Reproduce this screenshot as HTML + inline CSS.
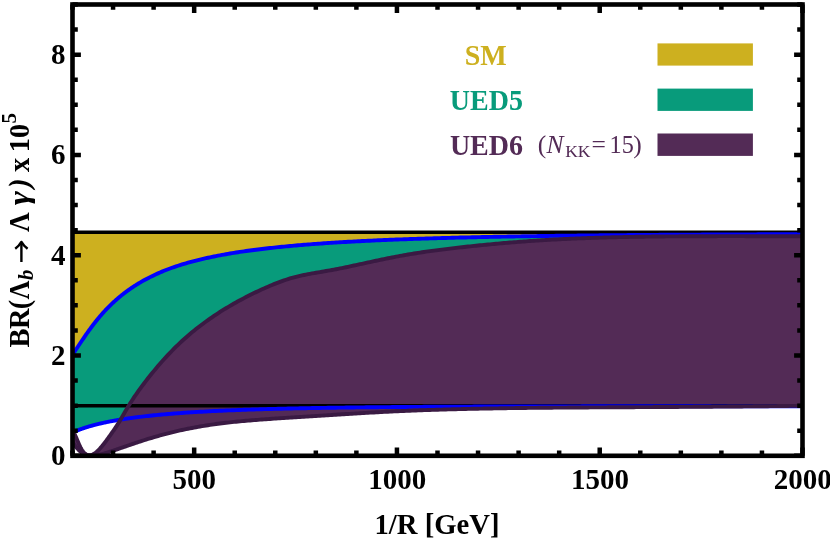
<!DOCTYPE html>
<html>
<head>
<meta charset="utf-8">
<title>BR plot</title>
<style>
html, body { margin: 0; padding: 0; background: #ffffff; }
body { width: 830px; height: 540px; overflow: hidden; font-family: "Liberation Serif", serif; }
svg { display: block; will-change: transform; }
</style>
</head>
<body>
<svg width="830" height="540" viewBox="0 0 830 540">
<rect x="0" y="0" width="830" height="540" fill="#ffffff"/>
<defs><clipPath id="plot"><rect x="72.50" y="4.50" width="730.00" height="451.30"/></clipPath></defs>
<g clip-path="url(#plot)">
<rect x="72.50" y="232.20" width="730.00" height="173.60" fill="#CDB01F"/>
<path d="M72.50 354.57 L73.00 353.86 L73.50 353.14 L74.00 352.42 L74.50 351.69 L75.00 350.96 L75.50 350.22 L76.00 349.48 L76.50 348.73 L77.00 347.99 L77.50 347.24 L78.00 346.49 L78.50 345.74 L79.00 344.99 L79.50 344.24 L80.00 343.49 L80.50 342.75 L81.00 342.00 L81.50 341.26 L82.00 340.51 L82.50 339.77 L83.00 339.04 L83.50 338.30 L84.00 337.57 L84.50 336.84 L85.00 336.11 L85.50 335.39 L86.00 334.67 L86.50 333.96 L87.00 333.25 L87.50 332.54 L88.00 331.84 L88.50 331.14 L89.00 330.44 L89.50 329.75 L90.00 329.07 L90.50 328.38 L91.00 327.71 L91.50 327.04 L92.00 326.37 L92.50 325.71 L93.00 325.05 L93.50 324.39 L94.00 323.74 L94.50 323.10 L95.00 322.46 L95.50 321.83 L96.00 321.20 L96.50 320.58 L97.00 319.96 L97.50 319.34 L98.00 318.73 L98.50 318.13 L99.00 317.53 L99.50 316.93 L100.00 316.35 L100.50 315.76 L101.00 315.18 L101.50 314.61 L102.00 314.04 L102.50 313.47 L103.00 312.91 L103.50 312.36 L104.00 311.81 L104.50 311.26 L105.00 310.72 L105.50 310.19 L106.00 309.66 L106.50 309.13 L107.00 308.61 L107.50 308.09 L108.00 307.58 L108.50 307.07 L109.00 306.57 L109.50 306.07 L110.00 305.58 L110.50 305.09 L111.00 304.60 L111.50 304.12 L112.00 303.65 L112.50 303.18 L113.00 302.71 L113.50 302.24 L114.00 301.78 L114.50 301.33 L115.00 300.88 L115.50 300.43 L116.00 299.99 L116.50 299.55 L117.00 299.11 L117.50 298.68 L118.00 298.25 L118.50 297.83 L119.00 297.40 L119.50 296.99 L120.00 296.57 L120.50 296.16 L121.00 295.76 L121.50 295.35 L122.00 294.95 L122.50 294.56 L123.00 294.16 L123.50 293.77 L124.00 293.39 L124.50 293.00 L125.00 292.62 L125.50 292.25 L126.00 291.87 L126.50 291.50 L127.00 291.14 L127.50 290.77 L128.00 290.41 L128.50 290.05 L129.00 289.70 L129.50 289.34 L130.00 288.99 L130.50 288.65 L131.00 288.30 L131.50 287.96 L132.00 287.63 L132.50 287.29 L133.00 286.96 L133.50 286.63 L134.00 286.30 L134.50 285.98 L135.00 285.66 L135.50 285.34 L136.00 285.02 L136.50 284.71 L137.00 284.40 L137.50 284.09 L138.00 283.78 L138.50 283.48 L139.00 283.18 L139.50 282.88 L140.00 282.58 L142.00 281.42 L144.00 280.29 L146.00 279.20 L148.00 278.15 L150.00 277.13 L152.00 276.14 L154.00 275.18 L156.00 274.25 L158.00 273.35 L160.00 272.48 L162.00 271.64 L164.00 270.82 L166.00 270.03 L168.00 269.26 L170.00 268.52 L172.00 267.79 L174.00 267.09 L176.00 266.41 L178.00 265.75 L180.00 265.11 L182.00 264.48 L184.00 263.88 L186.00 263.29 L188.00 262.71 L190.00 262.15 L192.00 261.61 L194.00 261.08 L196.00 260.57 L198.00 260.07 L200.00 259.58 L202.00 259.10 L204.00 258.63 L206.00 258.18 L208.00 257.74 L210.00 257.31 L212.00 256.89 L214.00 256.48 L216.00 256.08 L218.00 255.69 L220.00 255.30 L222.00 254.93 L224.00 254.56 L226.00 254.21 L228.00 253.86 L230.00 253.52 L232.00 253.19 L234.00 252.86 L236.00 252.54 L238.00 252.23 L240.00 251.93 L242.00 251.63 L244.00 251.33 L246.00 251.05 L248.00 250.77 L250.00 250.49 L252.00 250.23 L254.00 249.96 L256.00 249.70 L258.00 249.45 L260.00 249.20 L262.00 248.96 L264.00 248.72 L266.00 248.49 L268.00 248.26 L270.00 248.04 L272.00 247.82 L274.00 247.60 L276.00 247.39 L278.00 247.18 L280.00 246.98 L282.00 246.78 L284.00 246.58 L286.00 246.39 L288.00 246.20 L290.00 246.01 L292.00 245.83 L294.00 245.65 L296.00 245.48 L298.00 245.30 L300.00 245.13 L302.00 244.97 L304.00 244.80 L306.00 244.64 L308.00 244.48 L310.00 244.33 L312.00 244.17 L314.00 244.02 L316.00 243.88 L318.00 243.73 L320.00 243.59 L322.00 243.45 L324.00 243.31 L326.00 243.17 L328.00 243.04 L330.00 242.91 L332.00 242.78 L334.00 242.65 L336.00 242.53 L338.00 242.40 L340.00 242.28 L342.00 242.16 L344.00 242.05 L346.00 241.93 L348.00 241.82 L350.00 241.71 L352.00 241.60 L354.00 241.49 L356.00 241.38 L358.00 241.28 L360.00 241.18 L362.00 241.07 L364.00 240.97 L366.00 240.88 L368.00 240.78 L370.00 240.68 L372.00 240.59 L374.00 240.50 L376.00 240.41 L378.00 240.32 L380.00 240.23 L382.00 240.14 L384.00 240.06 L386.00 239.97 L388.00 239.89 L390.00 239.81 L392.00 239.72 L394.00 239.65 L396.00 239.57 L398.00 239.49 L400.00 239.41 L402.00 239.34 L404.00 239.26 L406.00 239.19 L408.00 239.12 L410.00 239.05 L412.00 238.98 L414.00 238.91 L416.00 238.84 L418.00 238.78 L420.00 238.71 L422.00 238.65 L424.00 238.58 L426.00 238.52 L428.00 238.46 L430.00 238.40 L432.00 238.34 L434.00 238.28 L436.00 238.22 L438.00 238.16 L440.00 238.10 L442.00 238.05 L444.00 237.99 L446.00 237.94 L448.00 237.88 L450.00 237.83 L452.00 237.78 L454.00 237.72 L456.00 237.67 L458.00 237.62 L460.00 237.57 L462.00 237.52 L464.00 237.47 L466.00 237.43 L468.00 237.38 L470.00 237.33 L472.00 237.29 L474.00 237.24 L476.00 237.20 L478.00 237.15 L480.00 237.11 L482.00 237.07 L484.00 237.03 L486.00 236.98 L488.00 236.94 L490.00 236.90 L492.00 236.86 L494.00 236.82 L496.00 236.78 L498.00 236.74 L500.00 236.71 L502.00 236.67 L504.00 236.63 L506.00 236.60 L508.00 236.56 L510.00 236.52 L512.00 236.49 L514.00 236.45 L516.00 236.42 L518.00 236.39 L520.00 236.35 L522.00 236.32 L524.00 236.29 L526.00 236.26 L528.00 236.22 L530.00 236.19 L532.00 236.16 L534.00 236.13 L536.00 236.10 L538.00 236.07 L540.00 236.04 L542.00 236.01 L544.00 235.99 L546.00 235.96 L548.00 235.93 L550.00 235.90 L552.00 235.88 L554.00 235.85 L556.00 235.82 L558.00 235.80 L560.00 235.77 L562.00 235.74 L564.00 235.72 L566.00 235.69 L568.00 235.67 L570.00 235.65 L572.00 235.62 L574.00 235.60 L576.00 235.58 L578.00 235.55 L580.00 235.53 L582.00 235.51 L584.00 235.49 L586.00 235.46 L588.00 235.44 L590.00 235.42 L592.00 235.40 L594.00 235.38 L596.00 235.36 L598.00 235.34 L600.00 235.32 L602.00 235.30 L604.00 235.28 L606.00 235.26 L608.00 235.24 L610.00 235.22 L612.00 235.20 L614.00 235.19 L616.00 235.17 L618.00 235.15 L620.00 235.13 L622.00 235.11 L624.00 235.10 L626.00 235.08 L628.00 235.06 L630.00 235.05 L632.00 235.03 L634.00 235.01 L636.00 235.00 L638.00 234.98 L640.00 234.97 L642.00 234.95 L644.00 234.94 L646.00 234.92 L648.00 234.91 L650.00 234.89 L652.00 234.88 L654.00 234.86 L656.00 234.85 L658.00 234.83 L660.00 234.82 L662.00 234.81 L664.00 234.79 L666.00 234.78 L668.00 234.77 L670.00 234.75 L672.00 234.74 L674.00 234.73 L676.00 234.72 L678.00 234.70 L680.00 234.69 L682.00 234.68 L684.00 234.67 L686.00 234.66 L688.00 234.65 L690.00 234.63 L692.00 234.62 L694.00 234.61 L696.00 234.60 L698.00 234.59 L700.00 234.58 L702.00 234.57 L704.00 234.56 L706.00 234.55 L708.00 234.54 L710.00 234.53 L712.00 234.52 L714.00 234.51 L716.00 234.50 L718.00 234.49 L720.00 234.48 L722.00 234.47 L724.00 234.46 L726.00 234.45 L728.00 234.44 L730.00 234.43 L732.00 234.42 L734.00 234.42 L736.00 234.41 L738.00 234.40 L740.00 234.39 L742.00 234.38 L744.00 234.37 L746.00 234.36 L748.00 234.36 L750.00 234.35 L752.00 234.34 L754.00 234.33 L756.00 234.33 L758.00 234.32 L760.00 234.31 L762.00 234.30 L764.00 234.30 L766.00 234.29 L768.00 234.28 L770.00 234.28 L772.00 234.27 L774.00 234.26 L776.00 234.25 L778.00 234.25 L780.00 234.24 L782.00 234.24 L784.00 234.23 L786.00 234.22 L788.00 234.22 L790.00 234.21 L792.00 234.20 L794.00 234.20 L796.00 234.19 L798.00 234.19 L800.00 234.18 L802.00 234.17 L802.50 234.17 L802.50 406.42 L802.00 406.42 L800.00 406.41 L798.00 406.41 L796.00 406.41 L794.00 406.41 L792.00 406.40 L790.00 406.40 L788.00 406.40 L786.00 406.40 L784.00 406.39 L782.00 406.39 L780.00 406.39 L778.00 406.39 L776.00 406.39 L774.00 406.38 L772.00 406.38 L770.00 406.38 L768.00 406.38 L766.00 406.37 L764.00 406.37 L762.00 406.37 L760.00 406.37 L758.00 406.37 L756.00 406.36 L754.00 406.36 L752.00 406.36 L750.00 406.36 L748.00 406.36 L746.00 406.35 L744.00 406.35 L742.00 406.35 L740.00 406.35 L738.00 406.35 L736.00 406.34 L734.00 406.34 L732.00 406.34 L730.00 406.34 L728.00 406.34 L726.00 406.34 L724.00 406.33 L722.00 406.33 L720.00 406.33 L718.00 406.33 L716.00 406.33 L714.00 406.33 L712.00 406.33 L710.00 406.32 L708.00 406.32 L706.00 406.32 L704.00 406.32 L702.00 406.32 L700.00 406.32 L698.00 406.32 L696.00 406.31 L694.00 406.31 L692.00 406.31 L690.00 406.31 L688.00 406.31 L686.00 406.31 L684.00 406.31 L682.00 406.31 L680.00 406.31 L678.00 406.31 L676.00 406.31 L674.00 406.30 L672.00 406.30 L670.00 406.30 L668.00 406.30 L666.00 406.30 L664.00 406.30 L662.00 406.30 L660.00 406.30 L658.00 406.30 L656.00 406.30 L654.00 406.30 L652.00 406.30 L650.00 406.30 L648.00 406.30 L646.00 406.30 L644.00 406.30 L642.00 406.30 L640.00 406.30 L638.00 406.30 L636.00 406.30 L634.00 406.30 L632.00 406.30 L630.00 406.30 L628.00 406.30 L626.00 406.30 L624.00 406.30 L622.00 406.30 L620.00 406.30 L618.00 406.30 L616.00 406.30 L614.00 406.30 L612.00 406.30 L610.00 406.31 L608.00 406.31 L606.00 406.31 L604.00 406.31 L602.00 406.31 L600.00 406.31 L598.00 406.31 L596.00 406.31 L594.00 406.31 L592.00 406.32 L590.00 406.32 L588.00 406.32 L586.00 406.32 L584.00 406.32 L582.00 406.32 L580.00 406.33 L578.00 406.33 L576.00 406.33 L574.00 406.33 L572.00 406.34 L570.00 406.34 L568.00 406.34 L566.00 406.34 L564.00 406.34 L562.00 406.35 L560.00 406.35 L558.00 406.35 L556.00 406.36 L554.00 406.36 L552.00 406.36 L550.00 406.36 L548.00 406.37 L546.00 406.37 L544.00 406.37 L542.00 406.38 L540.00 406.38 L538.00 406.39 L536.00 406.39 L534.00 406.39 L532.00 406.40 L530.00 406.40 L528.00 406.41 L526.00 406.41 L524.00 406.41 L522.00 406.42 L520.00 406.42 L518.00 406.43 L516.00 406.43 L514.00 406.44 L512.00 406.44 L510.00 406.45 L508.00 406.45 L506.00 406.46 L504.00 406.47 L502.00 406.47 L500.00 406.48 L498.00 406.48 L496.00 406.49 L494.00 406.50 L492.00 406.50 L490.00 406.51 L488.00 406.52 L486.00 406.52 L484.00 406.53 L482.00 406.54 L480.00 406.54 L478.00 406.55 L476.00 406.56 L474.00 406.57 L472.00 406.58 L470.00 406.58 L468.00 406.59 L466.00 406.60 L464.00 406.61 L462.00 406.62 L460.00 406.63 L458.00 406.64 L456.00 406.65 L454.00 406.65 L452.00 406.66 L450.00 406.67 L448.00 406.68 L446.00 406.69 L444.00 406.71 L442.00 406.72 L440.00 406.73 L438.00 406.74 L436.00 406.75 L434.00 406.76 L432.00 406.77 L430.00 406.78 L428.00 406.80 L426.00 406.81 L424.00 406.82 L422.00 406.83 L420.00 406.85 L418.00 406.86 L416.00 406.87 L414.00 406.89 L412.00 406.90 L410.00 406.92 L408.00 406.93 L406.00 406.95 L404.00 406.96 L402.00 406.98 L400.00 406.99 L398.00 407.01 L396.00 407.03 L394.00 407.04 L392.00 407.06 L390.00 407.08 L388.00 407.09 L386.00 407.11 L384.00 407.13 L382.00 407.15 L380.00 407.17 L378.00 407.19 L376.00 407.21 L374.00 407.23 L372.00 407.25 L370.00 407.27 L368.00 407.29 L366.00 407.31 L364.00 407.33 L362.00 407.36 L360.00 407.38 L358.00 407.40 L356.00 407.42 L354.00 407.45 L352.00 407.47 L350.00 407.50 L348.00 407.52 L346.00 407.55 L344.00 407.58 L342.00 407.60 L340.00 407.63 L338.00 407.66 L336.00 407.69 L334.00 407.71 L332.00 407.74 L330.00 407.77 L328.00 407.80 L326.00 407.84 L324.00 407.87 L322.00 407.90 L320.00 407.93 L318.00 407.97 L316.00 408.00 L314.00 408.03 L312.00 408.07 L310.00 408.11 L308.00 408.14 L306.00 408.18 L304.00 408.22 L302.00 408.26 L300.00 408.30 L298.00 408.34 L296.00 408.38 L294.00 408.42 L292.00 408.46 L290.00 408.51 L288.00 408.55 L286.00 408.60 L284.00 408.64 L282.00 408.69 L280.00 408.74 L278.00 408.79 L276.00 408.84 L274.00 408.89 L272.00 408.94 L270.00 409.00 L268.00 409.05 L266.00 409.11 L264.00 409.16 L262.00 409.22 L260.00 409.28 L258.00 409.34 L256.00 409.40 L254.00 409.47 L252.00 409.53 L250.00 409.60 L248.00 409.66 L246.00 409.73 L244.00 409.80 L242.00 409.87 L240.00 409.95 L238.00 410.02 L236.00 410.10 L234.00 410.18 L232.00 410.26 L230.00 410.34 L228.00 410.42 L226.00 410.51 L224.00 410.59 L222.00 410.68 L220.00 410.77 L218.00 410.87 L216.00 410.96 L214.00 411.06 L212.00 411.16 L210.00 411.26 L208.00 411.36 L206.00 411.47 L204.00 411.58 L202.00 411.69 L200.00 411.80 L198.00 411.92 L196.00 412.04 L194.00 412.16 L192.00 412.28 L190.00 412.41 L188.00 412.54 L186.00 412.67 L184.00 412.81 L182.00 412.95 L180.00 413.09 L178.00 413.24 L176.00 413.39 L174.00 413.54 L172.00 413.70 L170.00 413.86 L168.00 414.03 L166.00 414.20 L164.00 414.37 L162.00 414.55 L160.00 414.73 L158.00 414.92 L156.00 415.11 L154.00 415.31 L152.00 415.51 L150.00 415.72 L148.00 415.94 L146.00 416.16 L144.00 416.38 L142.00 416.62 L140.00 416.86 L139.50 416.92 L139.00 416.98 L138.50 417.04 L138.00 417.10 L137.50 417.16 L137.00 417.23 L136.50 417.29 L136.00 417.35 L135.50 417.42 L135.00 417.48 L134.50 417.55 L134.00 417.62 L133.50 417.68 L133.00 417.75 L132.50 417.82 L132.00 417.88 L131.50 417.95 L131.00 418.02 L130.50 418.09 L130.00 418.16 L129.50 418.23 L129.00 418.30 L128.50 418.37 L128.00 418.45 L127.50 418.52 L127.00 418.59 L126.50 418.66 L126.00 418.74 L125.50 418.81 L125.00 418.89 L124.50 418.97 L124.00 419.04 L123.50 419.12 L123.00 419.20 L122.50 419.28 L122.00 419.36 L121.50 419.43 L121.00 419.52 L120.50 419.60 L120.00 419.68 L119.50 419.76 L119.00 419.84 L118.50 419.93 L118.00 420.01 L117.50 420.10 L117.00 420.18 L116.50 420.27 L116.00 420.36 L115.50 420.45 L115.00 420.53 L114.50 420.62 L114.00 420.71 L113.50 420.80 L113.00 420.90 L112.50 420.99 L112.00 421.08 L111.50 421.18 L111.00 421.27 L110.50 421.37 L110.00 421.46 L109.50 421.56 L109.00 421.66 L108.50 421.76 L108.00 421.86 L107.50 421.96 L107.00 422.06 L106.50 422.17 L106.00 422.27 L105.50 422.38 L105.00 422.48 L104.50 422.59 L104.00 422.70 L103.50 422.81 L103.00 422.92 L102.50 423.03 L102.00 423.14 L101.50 423.25 L101.00 423.37 L100.50 423.48 L100.00 423.60 L99.50 423.72 L99.00 423.84 L98.50 423.96 L98.00 424.08 L97.50 424.20 L97.00 424.32 L96.50 424.45 L96.00 424.57 L95.50 424.70 L95.00 424.83 L94.50 424.96 L94.00 425.09 L93.50 425.23 L93.00 425.36 L92.50 425.50 L92.00 425.63 L91.50 425.77 L91.00 425.91 L90.50 426.05 L90.00 426.20 L89.50 426.34 L89.00 426.49 L88.50 426.64 L88.00 426.79 L87.50 426.94 L87.00 427.09 L86.50 427.25 L86.00 427.40 L85.50 427.56 L85.00 427.72 L84.50 427.89 L84.00 428.05 L83.50 428.22 L83.00 428.39 L82.50 428.56 L82.00 428.73 L81.50 428.91 L81.00 429.08 L80.50 429.26 L80.00 429.44 L79.50 429.63 L79.00 429.82 L78.50 430.00 L78.00 430.20 L77.50 430.39 L77.00 430.59 L76.50 430.79 L76.00 430.99 L75.50 431.19 L75.00 431.40 L74.50 431.61 L74.00 431.83 L73.50 432.04 L73.00 432.26 L72.50 432.49 Z" fill="#089B7B"/>
<path d="M72.50 431.40 L73.00 431.81 L73.50 432.39 L74.00 433.12 L74.50 433.98 L75.00 434.94 L75.50 435.99 L76.00 437.09 L76.50 438.25 L77.00 439.43 L77.50 440.63 L78.00 441.82 L78.50 443.00 L79.00 444.16 L79.50 445.28 L80.00 446.35 L80.50 447.37 L81.00 448.32 L81.50 449.20 L82.00 450.01 L82.50 450.75 L83.00 451.43 L83.50 452.04 L84.00 452.60 L84.50 453.09 L85.00 453.53 L85.50 453.92 L86.00 454.25 L86.50 454.53 L87.00 454.77 L87.50 454.95 L88.00 455.10 L88.50 455.19 L89.00 455.25 L89.50 455.26 L90.00 455.24 L90.50 455.18 L91.00 455.08 L91.50 454.94 L92.00 454.77 L92.50 454.57 L93.00 454.33 L93.50 454.07 L94.00 453.78 L94.50 453.45 L95.00 453.11 L95.50 452.74 L96.00 452.34 L96.50 451.92 L97.00 451.49 L97.50 451.03 L98.00 450.55 L98.50 450.05 L99.00 449.54 L99.50 449.01 L100.00 448.47 L100.50 447.91 L101.00 447.34 L101.50 446.76 L102.00 446.16 L102.50 445.56 L103.00 444.94 L103.50 444.31 L104.00 443.68 L104.50 443.03 L105.00 442.38 L105.50 441.72 L106.00 441.05 L106.50 440.38 L107.00 439.70 L107.50 439.01 L108.00 438.32 L108.50 437.63 L109.00 436.93 L109.50 436.23 L110.00 435.53 L110.50 434.82 L111.00 434.11 L111.50 433.39 L112.00 432.68 L112.50 431.96 L113.00 431.25 L113.50 430.53 L114.00 429.81 L114.50 429.08 L115.00 428.35 L115.50 427.61 L116.00 426.87 L116.50 426.11 L117.00 425.35 L117.50 424.58 L118.00 423.80 L118.50 423.00 L119.00 422.19 L119.50 421.37 L120.00 420.54 L120.50 419.70 L121.00 418.85 L121.50 417.99 L122.00 417.13 L122.50 416.27 L123.00 415.40 L123.50 414.53 L124.00 413.66 L124.50 412.80 L125.00 411.93 L125.50 411.07 L126.00 410.22 L126.50 409.36 L127.00 408.52 L127.50 407.68 L128.00 406.86 L128.50 406.03 L129.00 405.22 L129.50 404.41 L130.00 403.61 L130.50 402.82 L131.00 402.04 L131.50 401.26 L132.00 400.48 L132.50 399.72 L133.00 398.95 L133.50 398.20 L134.00 397.45 L134.50 396.70 L135.00 395.97 L135.50 395.23 L136.00 394.50 L136.50 393.78 L137.00 393.06 L137.50 392.35 L138.00 391.64 L138.50 390.94 L139.00 390.24 L139.50 389.54 L140.00 388.85 L142.00 386.13 L144.00 383.47 L146.00 380.86 L148.00 378.30 L150.00 375.79 L152.00 373.31 L154.00 370.87 L156.00 368.47 L158.00 366.11 L160.00 363.79 L162.00 361.51 L164.00 359.27 L166.00 357.07 L168.00 354.91 L170.00 352.80 L172.00 350.73 L174.00 348.70 L176.00 346.72 L178.00 344.78 L180.00 342.88 L182.00 341.02 L184.00 339.21 L186.00 337.43 L188.00 335.69 L190.00 333.98 L192.00 332.31 L194.00 330.67 L196.00 329.06 L198.00 327.49 L200.00 325.95 L202.00 324.43 L204.00 322.94 L206.00 321.49 L208.00 320.05 L210.00 318.65 L212.00 317.27 L214.00 315.91 L216.00 314.58 L218.00 313.27 L220.00 311.98 L222.00 310.72 L224.00 309.47 L226.00 308.25 L228.00 307.05 L230.00 305.87 L232.00 304.70 L234.00 303.56 L236.00 302.43 L238.00 301.32 L240.00 300.24 L242.00 299.16 L244.00 298.11 L246.00 297.07 L248.00 296.05 L250.00 295.04 L252.00 294.05 L254.00 293.08 L256.00 292.12 L258.00 291.17 L260.00 290.24 L262.00 289.33 L264.00 288.42 L266.00 287.54 L268.00 286.66 L270.00 285.81 L272.00 284.97 L274.00 284.15 L276.00 283.35 L278.00 282.58 L280.00 281.83 L282.00 281.10 L284.00 280.40 L286.00 279.73 L288.00 279.08 L290.00 278.47 L292.00 277.89 L294.00 277.33 L296.00 276.81 L298.00 276.31 L300.00 275.85 L302.00 275.40 L304.00 274.98 L306.00 274.57 L308.00 274.18 L310.00 273.81 L312.00 273.44 L314.00 273.08 L316.00 272.73 L318.00 272.39 L320.00 272.05 L322.00 271.71 L324.00 271.37 L326.00 271.03 L328.00 270.69 L330.00 270.34 L332.00 269.98 L334.00 269.61 L336.00 269.24 L338.00 268.86 L340.00 268.46 L342.00 268.06 L344.00 267.65 L346.00 267.24 L348.00 266.82 L350.00 266.39 L352.00 265.96 L354.00 265.53 L356.00 265.10 L358.00 264.66 L360.00 264.22 L362.00 263.78 L364.00 263.34 L366.00 262.91 L368.00 262.47 L370.00 262.04 L372.00 261.60 L374.00 261.17 L376.00 260.75 L378.00 260.32 L380.00 259.90 L382.00 259.49 L384.00 259.07 L386.00 258.67 L388.00 258.26 L390.00 257.87 L392.00 257.47 L394.00 257.09 L396.00 256.70 L398.00 256.33 L400.00 255.95 L402.00 255.59 L404.00 255.23 L406.00 254.87 L408.00 254.53 L410.00 254.19 L412.00 253.85 L414.00 253.52 L416.00 253.20 L418.00 252.89 L420.00 252.58 L422.00 252.28 L424.00 251.98 L426.00 251.69 L428.00 251.41 L430.00 251.13 L432.00 250.86 L434.00 250.59 L436.00 250.33 L438.00 250.07 L440.00 249.81 L442.00 249.56 L444.00 249.32 L446.00 249.07 L448.00 248.83 L450.00 248.59 L452.00 248.35 L454.00 248.12 L456.00 247.88 L458.00 247.66 L460.00 247.43 L462.00 247.20 L464.00 246.98 L466.00 246.76 L468.00 246.54 L470.00 246.33 L472.00 246.12 L474.00 245.91 L476.00 245.70 L478.00 245.49 L480.00 245.29 L482.00 245.09 L484.00 244.89 L486.00 244.70 L488.00 244.51 L490.00 244.32 L492.00 244.13 L494.00 243.94 L496.00 243.76 L498.00 243.58 L500.00 243.40 L502.00 243.23 L504.00 243.06 L506.00 242.89 L508.00 242.72 L510.00 242.56 L512.00 242.39 L514.00 242.23 L516.00 242.08 L518.00 241.92 L520.00 241.77 L522.00 241.62 L524.00 241.47 L526.00 241.33 L528.00 241.18 L530.00 241.04 L532.00 240.91 L534.00 240.77 L536.00 240.64 L538.00 240.51 L540.00 240.38 L542.00 240.26 L544.00 240.13 L546.00 240.01 L548.00 239.89 L550.00 239.78 L552.00 239.67 L554.00 239.55 L556.00 239.45 L558.00 239.34 L560.00 239.24 L562.00 239.14 L564.00 239.04 L566.00 238.94 L568.00 238.85 L570.00 238.75 L572.00 238.67 L574.00 238.58 L576.00 238.49 L578.00 238.41 L580.00 238.33 L582.00 238.25 L584.00 238.18 L586.00 238.10 L588.00 238.03 L590.00 237.96 L592.00 237.89 L594.00 237.83 L596.00 237.76 L598.00 237.70 L600.00 237.64 L602.00 237.58 L604.00 237.52 L606.00 237.46 L608.00 237.41 L610.00 237.36 L612.00 237.31 L614.00 237.26 L616.00 237.21 L618.00 237.16 L620.00 237.12 L622.00 237.08 L624.00 237.03 L626.00 236.99 L628.00 236.95 L630.00 236.91 L632.00 236.88 L634.00 236.84 L636.00 236.81 L638.00 236.77 L640.00 236.74 L642.00 236.71 L644.00 236.68 L646.00 236.65 L648.00 236.63 L650.00 236.60 L652.00 236.57 L654.00 236.55 L656.00 236.53 L658.00 236.50 L660.00 236.48 L662.00 236.46 L664.00 236.44 L666.00 236.42 L668.00 236.40 L670.00 236.39 L672.00 236.37 L674.00 236.36 L676.00 236.34 L678.00 236.33 L680.00 236.31 L682.00 236.30 L684.00 236.29 L686.00 236.28 L688.00 236.27 L690.00 236.26 L692.00 236.25 L694.00 236.24 L696.00 236.23 L698.00 236.22 L700.00 236.22 L702.00 236.21 L704.00 236.20 L706.00 236.20 L708.00 236.19 L710.00 236.19 L712.00 236.18 L714.00 236.18 L716.00 236.18 L718.00 236.17 L720.00 236.17 L722.00 236.17 L724.00 236.17 L726.00 236.17 L728.00 236.17 L730.00 236.17 L732.00 236.17 L734.00 236.17 L736.00 236.17 L738.00 236.17 L740.00 236.17 L742.00 236.17 L744.00 236.17 L746.00 236.18 L748.00 236.18 L750.00 236.18 L752.00 236.18 L754.00 236.19 L756.00 236.19 L758.00 236.19 L760.00 236.20 L762.00 236.20 L764.00 236.20 L766.00 236.21 L768.00 236.21 L770.00 236.22 L772.00 236.22 L774.00 236.22 L776.00 236.23 L778.00 236.23 L780.00 236.24 L782.00 236.24 L784.00 236.25 L786.00 236.25 L788.00 236.26 L790.00 236.26 L792.00 236.27 L794.00 236.28 L796.00 236.28 L798.00 236.29 L800.00 236.29 L802.00 236.30 L802.50 236.30 L802.50 405.77 L802.00 405.77 L800.00 405.80 L798.00 405.82 L796.00 405.85 L794.00 405.87 L792.00 405.90 L790.00 405.92 L788.00 405.95 L786.00 405.97 L784.00 406.00 L782.00 406.02 L780.00 406.04 L778.00 406.07 L776.00 406.09 L774.00 406.11 L772.00 406.13 L770.00 406.15 L768.00 406.18 L766.00 406.20 L764.00 406.22 L762.00 406.24 L760.00 406.26 L758.00 406.28 L756.00 406.30 L754.00 406.32 L752.00 406.34 L750.00 406.36 L748.00 406.38 L746.00 406.40 L744.00 406.42 L742.00 406.44 L740.00 406.46 L738.00 406.47 L736.00 406.49 L734.00 406.51 L732.00 406.53 L730.00 406.54 L728.00 406.56 L726.00 406.58 L724.00 406.59 L722.00 406.61 L720.00 406.63 L718.00 406.64 L716.00 406.66 L714.00 406.67 L712.00 406.69 L710.00 406.71 L708.00 406.72 L706.00 406.74 L704.00 406.75 L702.00 406.76 L700.00 406.78 L698.00 406.79 L696.00 406.81 L694.00 406.82 L692.00 406.84 L690.00 406.85 L688.00 406.86 L686.00 406.88 L684.00 406.89 L682.00 406.90 L680.00 406.91 L678.00 406.93 L676.00 406.94 L674.00 406.95 L672.00 406.96 L670.00 406.98 L668.00 406.99 L666.00 407.00 L664.00 407.01 L662.00 407.02 L660.00 407.04 L658.00 407.05 L656.00 407.06 L654.00 407.07 L652.00 407.08 L650.00 407.09 L648.00 407.10 L646.00 407.11 L644.00 407.12 L642.00 407.14 L640.00 407.15 L638.00 407.16 L636.00 407.17 L634.00 407.18 L632.00 407.19 L630.00 407.20 L628.00 407.21 L626.00 407.22 L624.00 407.23 L622.00 407.24 L620.00 407.25 L618.00 407.26 L616.00 407.28 L614.00 407.29 L612.00 407.30 L610.00 407.31 L608.00 407.32 L606.00 407.33 L604.00 407.34 L602.00 407.35 L600.00 407.36 L598.00 407.37 L596.00 407.39 L594.00 407.40 L592.00 407.41 L590.00 407.42 L588.00 407.43 L586.00 407.45 L584.00 407.46 L582.00 407.47 L580.00 407.48 L578.00 407.50 L576.00 407.51 L574.00 407.52 L572.00 407.54 L570.00 407.55 L568.00 407.56 L566.00 407.58 L564.00 407.59 L562.00 407.61 L560.00 407.62 L558.00 407.64 L556.00 407.65 L554.00 407.67 L552.00 407.69 L550.00 407.70 L548.00 407.72 L546.00 407.74 L544.00 407.76 L542.00 407.78 L540.00 407.79 L538.00 407.81 L536.00 407.83 L534.00 407.85 L532.00 407.88 L530.00 407.90 L528.00 407.92 L526.00 407.94 L524.00 407.96 L522.00 407.99 L520.00 408.01 L518.00 408.04 L516.00 408.06 L514.00 408.09 L512.00 408.12 L510.00 408.15 L508.00 408.17 L506.00 408.20 L504.00 408.23 L502.00 408.26 L500.00 408.29 L498.00 408.33 L496.00 408.36 L494.00 408.39 L492.00 408.43 L490.00 408.46 L488.00 408.50 L486.00 408.54 L484.00 408.57 L482.00 408.61 L480.00 408.65 L478.00 408.69 L476.00 408.73 L474.00 408.78 L472.00 408.82 L470.00 408.86 L468.00 408.91 L466.00 408.95 L464.00 409.00 L462.00 409.05 L460.00 409.10 L458.00 409.15 L456.00 409.20 L454.00 409.25 L452.00 409.30 L450.00 409.36 L448.00 409.41 L446.00 409.47 L444.00 409.53 L442.00 409.59 L440.00 409.65 L438.00 409.71 L436.00 409.77 L434.00 409.83 L432.00 409.90 L430.00 409.97 L428.00 410.03 L426.00 410.10 L424.00 410.17 L422.00 410.25 L420.00 410.32 L418.00 410.39 L416.00 410.47 L414.00 410.55 L412.00 410.63 L410.00 410.71 L408.00 410.79 L406.00 410.87 L404.00 410.96 L402.00 411.05 L400.00 411.14 L398.00 411.23 L396.00 411.32 L394.00 411.41 L392.00 411.51 L390.00 411.61 L388.00 411.70 L386.00 411.80 L384.00 411.91 L382.00 412.01 L380.00 412.11 L378.00 412.22 L376.00 412.32 L374.00 412.43 L372.00 412.54 L370.00 412.65 L368.00 412.77 L366.00 412.88 L364.00 412.99 L362.00 413.11 L360.00 413.23 L358.00 413.34 L356.00 413.46 L354.00 413.58 L352.00 413.70 L350.00 413.83 L348.00 413.95 L346.00 414.07 L344.00 414.20 L342.00 414.32 L340.00 414.45 L338.00 414.57 L336.00 414.70 L334.00 414.82 L332.00 414.95 L330.00 415.08 L328.00 415.21 L326.00 415.33 L324.00 415.46 L322.00 415.59 L320.00 415.71 L318.00 415.84 L316.00 415.97 L314.00 416.09 L312.00 416.22 L310.00 416.35 L308.00 416.47 L306.00 416.60 L304.00 416.72 L302.00 416.85 L300.00 416.98 L298.00 417.10 L296.00 417.23 L294.00 417.36 L292.00 417.48 L290.00 417.61 L288.00 417.74 L286.00 417.87 L284.00 418.00 L282.00 418.13 L280.00 418.26 L278.00 418.40 L276.00 418.53 L274.00 418.67 L272.00 418.81 L270.00 418.94 L268.00 419.09 L266.00 419.23 L264.00 419.37 L262.00 419.52 L260.00 419.67 L258.00 419.82 L256.00 419.98 L254.00 420.14 L252.00 420.30 L250.00 420.46 L248.00 420.63 L246.00 420.80 L244.00 420.98 L242.00 421.16 L240.00 421.34 L238.00 421.53 L236.00 421.73 L234.00 421.93 L232.00 422.14 L230.00 422.35 L228.00 422.57 L226.00 422.80 L224.00 423.03 L222.00 423.27 L220.00 423.52 L218.00 423.78 L216.00 424.05 L214.00 424.33 L212.00 424.61 L210.00 424.91 L208.00 425.21 L206.00 425.52 L204.00 425.84 L202.00 426.17 L200.00 426.51 L198.00 426.86 L196.00 427.22 L194.00 427.59 L192.00 427.97 L190.00 428.36 L188.00 428.76 L186.00 429.17 L184.00 429.59 L182.00 430.02 L180.00 430.46 L178.00 430.91 L176.00 431.37 L174.00 431.84 L172.00 432.33 L170.00 432.82 L168.00 433.33 L166.00 433.84 L164.00 434.37 L162.00 434.91 L160.00 435.46 L158.00 436.02 L156.00 436.59 L154.00 437.17 L152.00 437.76 L150.00 438.37 L148.00 438.98 L146.00 439.60 L144.00 440.23 L142.00 440.88 L140.00 441.53 L139.50 441.69 L139.00 441.86 L138.50 442.02 L138.00 442.19 L137.50 442.35 L137.00 442.52 L136.50 442.68 L136.00 442.85 L135.50 443.02 L135.00 443.19 L134.50 443.36 L134.00 443.53 L133.50 443.70 L133.00 443.87 L132.50 444.04 L132.00 444.21 L131.50 444.38 L131.00 444.55 L130.50 444.72 L130.00 444.89 L129.50 445.06 L129.00 445.24 L128.50 445.41 L128.00 445.58 L127.50 445.76 L127.00 445.93 L126.50 446.10 L126.00 446.28 L125.50 446.45 L125.00 446.62 L124.50 446.80 L124.00 446.97 L123.50 447.14 L123.00 447.32 L122.50 447.49 L122.00 447.67 L121.50 447.84 L121.00 448.01 L120.50 448.19 L120.00 448.36 L119.50 448.53 L119.00 448.71 L118.50 448.88 L118.00 449.05 L117.50 449.22 L117.00 449.39 L116.50 449.56 L116.00 449.73 L115.50 449.90 L115.00 450.07 L114.50 450.24 L114.00 450.41 L113.50 450.58 L113.00 450.74 L112.50 450.91 L112.00 451.07 L111.50 451.24 L111.00 451.40 L110.50 451.56 L110.00 451.72 L109.50 451.88 L109.00 452.04 L108.50 452.19 L108.00 452.35 L107.50 452.50 L107.00 452.65 L106.50 452.80 L106.00 452.95 L105.50 453.10 L105.00 453.24 L104.50 453.39 L104.00 453.53 L103.50 453.66 L103.00 453.80 L102.50 453.93 L102.00 454.06 L101.50 454.19 L101.00 454.31 L100.50 454.43 L100.00 454.54 L99.50 454.65 L99.00 454.76 L98.50 454.86 L98.00 454.96 L97.50 455.05 L97.00 455.13 L96.50 455.21 L96.00 455.28 L95.50 455.35 L95.00 455.41 L94.50 455.46 L94.00 455.50 L93.50 455.54 L93.00 455.57 L92.50 455.58 L92.00 455.59 L91.50 455.59 L91.00 455.57 L90.50 455.55 L90.00 455.51 L89.50 455.46 L89.00 455.40 L88.50 455.32 L88.00 455.23 L87.50 455.12 L87.00 455.00 L86.50 454.86 L86.00 454.70 L85.50 454.52 L85.00 454.33 L84.50 454.11 L84.00 453.87 L83.50 453.61 L83.00 453.33 L82.50 453.03 L82.00 452.70 L81.50 452.35 L81.00 451.98 L80.50 451.59 L80.00 451.17 L79.50 450.73 L79.00 450.26 L78.50 449.77 L78.00 449.25 L77.50 448.71 L77.00 448.14 L76.50 447.54 L76.00 446.92 L75.50 446.27 L75.00 445.59 L74.50 444.89 L74.00 444.15 L73.50 443.39 L73.00 442.60 L72.50 441.79 Z" fill="#532B56"/>
<path d="M72.50 232.20 H802.50 M72.50 405.80 H802.50" stroke="#000" stroke-width="3.5" fill="none"/>
<path d="M72.50 354.57 L73.00 353.86 L73.50 353.14 L74.00 352.42 L74.50 351.69 L75.00 350.96 L75.50 350.22 L76.00 349.48 L76.50 348.73 L77.00 347.99 L77.50 347.24 L78.00 346.49 L78.50 345.74 L79.00 344.99 L79.50 344.24 L80.00 343.49 L80.50 342.75 L81.00 342.00 L81.50 341.26 L82.00 340.51 L82.50 339.77 L83.00 339.04 L83.50 338.30 L84.00 337.57 L84.50 336.84 L85.00 336.11 L85.50 335.39 L86.00 334.67 L86.50 333.96 L87.00 333.25 L87.50 332.54 L88.00 331.84 L88.50 331.14 L89.00 330.44 L89.50 329.75 L90.00 329.07 L90.50 328.38 L91.00 327.71 L91.50 327.04 L92.00 326.37 L92.50 325.71 L93.00 325.05 L93.50 324.39 L94.00 323.74 L94.50 323.10 L95.00 322.46 L95.50 321.83 L96.00 321.20 L96.50 320.58 L97.00 319.96 L97.50 319.34 L98.00 318.73 L98.50 318.13 L99.00 317.53 L99.50 316.93 L100.00 316.35 L100.50 315.76 L101.00 315.18 L101.50 314.61 L102.00 314.04 L102.50 313.47 L103.00 312.91 L103.50 312.36 L104.00 311.81 L104.50 311.26 L105.00 310.72 L105.50 310.19 L106.00 309.66 L106.50 309.13 L107.00 308.61 L107.50 308.09 L108.00 307.58 L108.50 307.07 L109.00 306.57 L109.50 306.07 L110.00 305.58 L110.50 305.09 L111.00 304.60 L111.50 304.12 L112.00 303.65 L112.50 303.18 L113.00 302.71 L113.50 302.24 L114.00 301.78 L114.50 301.33 L115.00 300.88 L115.50 300.43 L116.00 299.99 L116.50 299.55 L117.00 299.11 L117.50 298.68 L118.00 298.25 L118.50 297.83 L119.00 297.40 L119.50 296.99 L120.00 296.57 L120.50 296.16 L121.00 295.76 L121.50 295.35 L122.00 294.95 L122.50 294.56 L123.00 294.16 L123.50 293.77 L124.00 293.39 L124.50 293.00 L125.00 292.62 L125.50 292.25 L126.00 291.87 L126.50 291.50 L127.00 291.14 L127.50 290.77 L128.00 290.41 L128.50 290.05 L129.00 289.70 L129.50 289.34 L130.00 288.99 L130.50 288.65 L131.00 288.30 L131.50 287.96 L132.00 287.63 L132.50 287.29 L133.00 286.96 L133.50 286.63 L134.00 286.30 L134.50 285.98 L135.00 285.66 L135.50 285.34 L136.00 285.02 L136.50 284.71 L137.00 284.40 L137.50 284.09 L138.00 283.78 L138.50 283.48 L139.00 283.18 L139.50 282.88 L140.00 282.58 L142.00 281.42 L144.00 280.29 L146.00 279.20 L148.00 278.15 L150.00 277.13 L152.00 276.14 L154.00 275.18 L156.00 274.25 L158.00 273.35 L160.00 272.48 L162.00 271.64 L164.00 270.82 L166.00 270.03 L168.00 269.26 L170.00 268.52 L172.00 267.79 L174.00 267.09 L176.00 266.41 L178.00 265.75 L180.00 265.11 L182.00 264.48 L184.00 263.88 L186.00 263.29 L188.00 262.71 L190.00 262.15 L192.00 261.61 L194.00 261.08 L196.00 260.57 L198.00 260.07 L200.00 259.58 L202.00 259.10 L204.00 258.63 L206.00 258.18 L208.00 257.74 L210.00 257.31 L212.00 256.89 L214.00 256.48 L216.00 256.08 L218.00 255.69 L220.00 255.30 L222.00 254.93 L224.00 254.56 L226.00 254.21 L228.00 253.86 L230.00 253.52 L232.00 253.19 L234.00 252.86 L236.00 252.54 L238.00 252.23 L240.00 251.93 L242.00 251.63 L244.00 251.33 L246.00 251.05 L248.00 250.77 L250.00 250.49 L252.00 250.23 L254.00 249.96 L256.00 249.70 L258.00 249.45 L260.00 249.20 L262.00 248.96 L264.00 248.72 L266.00 248.49 L268.00 248.26 L270.00 248.04 L272.00 247.82 L274.00 247.60 L276.00 247.39 L278.00 247.18 L280.00 246.98 L282.00 246.78 L284.00 246.58 L286.00 246.39 L288.00 246.20 L290.00 246.01 L292.00 245.83 L294.00 245.65 L296.00 245.48 L298.00 245.30 L300.00 245.13 L302.00 244.97 L304.00 244.80 L306.00 244.64 L308.00 244.48 L310.00 244.33 L312.00 244.17 L314.00 244.02 L316.00 243.88 L318.00 243.73 L320.00 243.59 L322.00 243.45 L324.00 243.31 L326.00 243.17 L328.00 243.04 L330.00 242.91 L332.00 242.78 L334.00 242.65 L336.00 242.53 L338.00 242.40 L340.00 242.28 L342.00 242.16 L344.00 242.05 L346.00 241.93 L348.00 241.82 L350.00 241.71 L352.00 241.60 L354.00 241.49 L356.00 241.38 L358.00 241.28 L360.00 241.18 L362.00 241.07 L364.00 240.97 L366.00 240.88 L368.00 240.78 L370.00 240.68 L372.00 240.59 L374.00 240.50 L376.00 240.41 L378.00 240.32 L380.00 240.23 L382.00 240.14 L384.00 240.06 L386.00 239.97 L388.00 239.89 L390.00 239.81 L392.00 239.72 L394.00 239.65 L396.00 239.57 L398.00 239.49 L400.00 239.41 L402.00 239.34 L404.00 239.26 L406.00 239.19 L408.00 239.12 L410.00 239.05 L412.00 238.98 L414.00 238.91 L416.00 238.84 L418.00 238.78 L420.00 238.71 L422.00 238.65 L424.00 238.58 L426.00 238.52 L428.00 238.46 L430.00 238.40 L432.00 238.34 L434.00 238.28 L436.00 238.22 L438.00 238.16 L440.00 238.10 L442.00 238.05 L444.00 237.99 L446.00 237.94 L448.00 237.88 L450.00 237.83 L452.00 237.78 L454.00 237.72 L456.00 237.67 L458.00 237.62 L460.00 237.57 L462.00 237.52 L464.00 237.47 L466.00 237.43 L468.00 237.38 L470.00 237.33 L472.00 237.29 L474.00 237.24 L476.00 237.20 L478.00 237.15 L480.00 237.11 L482.00 237.07 L484.00 237.03 L486.00 236.98 L488.00 236.94 L490.00 236.90 L492.00 236.86 L494.00 236.82 L496.00 236.78 L498.00 236.74 L500.00 236.71 L502.00 236.67 L504.00 236.63 L506.00 236.60 L508.00 236.56 L510.00 236.52 L512.00 236.49 L514.00 236.45 L516.00 236.42 L518.00 236.39 L520.00 236.35 L522.00 236.32 L524.00 236.29 L526.00 236.26 L528.00 236.22 L530.00 236.19 L532.00 236.16 L534.00 236.13 L536.00 236.10 L538.00 236.07 L540.00 236.04 L542.00 236.01 L544.00 235.99 L546.00 235.96 L548.00 235.93 L550.00 235.90 L552.00 235.88 L554.00 235.85 L556.00 235.82 L558.00 235.80 L560.00 235.77 L562.00 235.74 L564.00 235.72 L566.00 235.69 L568.00 235.67 L570.00 235.65 L572.00 235.62 L574.00 235.60 L576.00 235.58 L578.00 235.55 L580.00 235.53 L582.00 235.51 L584.00 235.49 L586.00 235.46 L588.00 235.44 L590.00 235.42 L592.00 235.40 L594.00 235.38 L596.00 235.36 L598.00 235.34 L600.00 235.32 L602.00 235.30 L604.00 235.28 L606.00 235.26 L608.00 235.24 L610.00 235.22 L612.00 235.20 L614.00 235.19 L616.00 235.17 L618.00 235.15 L620.00 235.13 L622.00 235.11 L624.00 235.10 L626.00 235.08 L628.00 235.06 L630.00 235.05 L632.00 235.03 L634.00 235.01 L636.00 235.00 L638.00 234.98 L640.00 234.97 L642.00 234.95 L644.00 234.94 L646.00 234.92 L648.00 234.91 L650.00 234.89 L652.00 234.88 L654.00 234.86 L656.00 234.85 L658.00 234.83 L660.00 234.82 L662.00 234.81 L664.00 234.79 L666.00 234.78 L668.00 234.77 L670.00 234.75 L672.00 234.74 L674.00 234.73 L676.00 234.72 L678.00 234.70 L680.00 234.69 L682.00 234.68 L684.00 234.67 L686.00 234.66 L688.00 234.65 L690.00 234.63 L692.00 234.62 L694.00 234.61 L696.00 234.60 L698.00 234.59 L700.00 234.58 L702.00 234.57 L704.00 234.56 L706.00 234.55 L708.00 234.54 L710.00 234.53 L712.00 234.52 L714.00 234.51 L716.00 234.50 L718.00 234.49 L720.00 234.48 L722.00 234.47 L724.00 234.46 L726.00 234.45 L728.00 234.44 L730.00 234.43 L732.00 234.42 L734.00 234.42 L736.00 234.41 L738.00 234.40 L740.00 234.39 L742.00 234.38 L744.00 234.37 L746.00 234.36 L748.00 234.36 L750.00 234.35 L752.00 234.34 L754.00 234.33 L756.00 234.33 L758.00 234.32 L760.00 234.31 L762.00 234.30 L764.00 234.30 L766.00 234.29 L768.00 234.28 L770.00 234.28 L772.00 234.27 L774.00 234.26 L776.00 234.25 L778.00 234.25 L780.00 234.24 L782.00 234.24 L784.00 234.23 L786.00 234.22 L788.00 234.22 L790.00 234.21 L792.00 234.20 L794.00 234.20 L796.00 234.19 L798.00 234.19 L800.00 234.18 L802.00 234.17 L802.50 234.17" stroke="#0000FF" stroke-width="3.9" fill="none"/>
<path d="M72.50 432.49 L73.00 432.26 L73.50 432.04 L74.00 431.83 L74.50 431.61 L75.00 431.40 L75.50 431.19 L76.00 430.99 L76.50 430.79 L77.00 430.59 L77.50 430.39 L78.00 430.20 L78.50 430.00 L79.00 429.82 L79.50 429.63 L80.00 429.44 L80.50 429.26 L81.00 429.08 L81.50 428.91 L82.00 428.73 L82.50 428.56 L83.00 428.39 L83.50 428.22 L84.00 428.05 L84.50 427.89 L85.00 427.72 L85.50 427.56 L86.00 427.40 L86.50 427.25 L87.00 427.09 L87.50 426.94 L88.00 426.79 L88.50 426.64 L89.00 426.49 L89.50 426.34 L90.00 426.20 L90.50 426.05 L91.00 425.91 L91.50 425.77 L92.00 425.63 L92.50 425.50 L93.00 425.36 L93.50 425.23 L94.00 425.09 L94.50 424.96 L95.00 424.83 L95.50 424.70 L96.00 424.57 L96.50 424.45 L97.00 424.32 L97.50 424.20 L98.00 424.08 L98.50 423.96 L99.00 423.84 L99.50 423.72 L100.00 423.60 L100.50 423.48 L101.00 423.37 L101.50 423.25 L102.00 423.14 L102.50 423.03 L103.00 422.92 L103.50 422.81 L104.00 422.70 L104.50 422.59 L105.00 422.48 L105.50 422.38 L106.00 422.27 L106.50 422.17 L107.00 422.06 L107.50 421.96 L108.00 421.86 L108.50 421.76 L109.00 421.66 L109.50 421.56 L110.00 421.46 L110.50 421.37 L111.00 421.27 L111.50 421.18 L112.00 421.08 L112.50 420.99 L113.00 420.90 L113.50 420.80 L114.00 420.71 L114.50 420.62 L115.00 420.53 L115.50 420.45 L116.00 420.36 L116.50 420.27 L117.00 420.18 L117.50 420.10 L118.00 420.01 L118.50 419.93 L119.00 419.84 L119.50 419.76 L120.00 419.68 L120.50 419.60 L121.00 419.52 L121.50 419.43 L122.00 419.36 L122.50 419.28 L123.00 419.20 L123.50 419.12 L124.00 419.04 L124.50 418.97 L125.00 418.89 L125.50 418.81 L126.00 418.74 L126.50 418.66 L127.00 418.59 L127.50 418.52 L128.00 418.45 L128.50 418.37 L129.00 418.30 L129.50 418.23 L130.00 418.16 L130.50 418.09 L131.00 418.02 L131.50 417.95 L132.00 417.88 L132.50 417.82 L133.00 417.75 L133.50 417.68 L134.00 417.62 L134.50 417.55 L135.00 417.48 L135.50 417.42 L136.00 417.35 L136.50 417.29 L137.00 417.23 L137.50 417.16 L138.00 417.10 L138.50 417.04 L139.00 416.98 L139.50 416.92 L140.00 416.86 L142.00 416.62 L144.00 416.38 L146.00 416.16 L148.00 415.94 L150.00 415.72 L152.00 415.51 L154.00 415.31 L156.00 415.11 L158.00 414.92 L160.00 414.73 L162.00 414.55 L164.00 414.37 L166.00 414.20 L168.00 414.03 L170.00 413.86 L172.00 413.70 L174.00 413.54 L176.00 413.39 L178.00 413.24 L180.00 413.09 L182.00 412.95 L184.00 412.81 L186.00 412.67 L188.00 412.54 L190.00 412.41 L192.00 412.28 L194.00 412.16 L196.00 412.04 L198.00 411.92 L200.00 411.80 L202.00 411.69 L204.00 411.58 L206.00 411.47 L208.00 411.36 L210.00 411.26 L212.00 411.16 L214.00 411.06 L216.00 410.96 L218.00 410.87 L220.00 410.77 L222.00 410.68 L224.00 410.59 L226.00 410.51 L228.00 410.42 L230.00 410.34 L232.00 410.26 L234.00 410.18 L236.00 410.10 L238.00 410.02 L240.00 409.95 L242.00 409.87 L244.00 409.80 L246.00 409.73 L248.00 409.66 L250.00 409.60 L252.00 409.53 L254.00 409.47 L256.00 409.40 L258.00 409.34 L260.00 409.28 L262.00 409.22 L264.00 409.16 L266.00 409.11 L268.00 409.05 L270.00 409.00 L272.00 408.94 L274.00 408.89 L276.00 408.84 L278.00 408.79 L280.00 408.74 L282.00 408.69 L284.00 408.64 L286.00 408.60 L288.00 408.55 L290.00 408.51 L292.00 408.46 L294.00 408.42 L296.00 408.38 L298.00 408.34 L300.00 408.30 L302.00 408.26 L304.00 408.22 L306.00 408.18 L308.00 408.14 L310.00 408.11 L312.00 408.07 L314.00 408.03 L316.00 408.00 L318.00 407.97 L320.00 407.93 L322.00 407.90 L324.00 407.87 L326.00 407.84 L328.00 407.80 L330.00 407.77 L332.00 407.74 L334.00 407.71 L336.00 407.69 L338.00 407.66 L340.00 407.63 L342.00 407.60 L344.00 407.58 L346.00 407.55 L348.00 407.52 L350.00 407.50 L352.00 407.47 L354.00 407.45 L356.00 407.42 L358.00 407.40 L360.00 407.38 L362.00 407.36 L364.00 407.33 L366.00 407.31 L368.00 407.29 L370.00 407.27 L372.00 407.25 L374.00 407.23 L376.00 407.21 L378.00 407.19 L380.00 407.17 L382.00 407.15 L384.00 407.13 L386.00 407.11 L388.00 407.09 L390.00 407.08 L392.00 407.06 L394.00 407.04 L396.00 407.03 L398.00 407.01 L400.00 406.99 L402.00 406.98 L404.00 406.96 L406.00 406.95 L408.00 406.93 L410.00 406.92 L412.00 406.90 L414.00 406.89 L416.00 406.87 L418.00 406.86 L420.00 406.85 L422.00 406.83 L424.00 406.82 L426.00 406.81 L428.00 406.80 L430.00 406.78 L432.00 406.77 L434.00 406.76 L436.00 406.75 L438.00 406.74 L440.00 406.73 L442.00 406.72 L444.00 406.71 L446.00 406.69 L448.00 406.68 L450.00 406.67 L452.00 406.66 L454.00 406.65 L456.00 406.65 L458.00 406.64 L460.00 406.63 L462.00 406.62 L464.00 406.61 L466.00 406.60 L468.00 406.59 L470.00 406.58 L472.00 406.58 L474.00 406.57 L476.00 406.56 L478.00 406.55 L480.00 406.54 L482.00 406.54 L484.00 406.53 L486.00 406.52 L488.00 406.52 L490.00 406.51 L492.00 406.50 L494.00 406.50 L496.00 406.49 L498.00 406.48 L500.00 406.48 L502.00 406.47 L504.00 406.47 L506.00 406.46 L508.00 406.45 L510.00 406.45 L512.00 406.44 L514.00 406.44 L516.00 406.43 L518.00 406.43 L520.00 406.42 L522.00 406.42 L524.00 406.41 L526.00 406.41 L528.00 406.41 L530.00 406.40 L532.00 406.40 L534.00 406.39 L536.00 406.39 L538.00 406.39 L540.00 406.38 L542.00 406.38 L544.00 406.37 L546.00 406.37 L548.00 406.37 L550.00 406.36 L552.00 406.36 L554.00 406.36 L556.00 406.36 L558.00 406.35 L560.00 406.35 L562.00 406.35 L564.00 406.34 L566.00 406.34 L568.00 406.34 L570.00 406.34 L572.00 406.34 L574.00 406.33 L576.00 406.33 L578.00 406.33 L580.00 406.33 L582.00 406.32 L584.00 406.32 L586.00 406.32 L588.00 406.32 L590.00 406.32 L592.00 406.32 L594.00 406.31 L596.00 406.31 L598.00 406.31 L600.00 406.31 L602.00 406.31 L604.00 406.31 L606.00 406.31 L608.00 406.31 L610.00 406.31 L612.00 406.30 L614.00 406.30 L616.00 406.30 L618.00 406.30 L620.00 406.30 L622.00 406.30 L624.00 406.30 L626.00 406.30 L628.00 406.30 L630.00 406.30 L632.00 406.30 L634.00 406.30 L636.00 406.30 L638.00 406.30 L640.00 406.30 L642.00 406.30 L644.00 406.30 L646.00 406.30 L648.00 406.30 L650.00 406.30 L652.00 406.30 L654.00 406.30 L656.00 406.30 L658.00 406.30 L660.00 406.30 L662.00 406.30 L664.00 406.30 L666.00 406.30 L668.00 406.30 L670.00 406.30 L672.00 406.30 L674.00 406.30 L676.00 406.31 L678.00 406.31 L680.00 406.31 L682.00 406.31 L684.00 406.31 L686.00 406.31 L688.00 406.31 L690.00 406.31 L692.00 406.31 L694.00 406.31 L696.00 406.31 L698.00 406.32 L700.00 406.32 L702.00 406.32 L704.00 406.32 L706.00 406.32 L708.00 406.32 L710.00 406.32 L712.00 406.33 L714.00 406.33 L716.00 406.33 L718.00 406.33 L720.00 406.33 L722.00 406.33 L724.00 406.33 L726.00 406.34 L728.00 406.34 L730.00 406.34 L732.00 406.34 L734.00 406.34 L736.00 406.34 L738.00 406.35 L740.00 406.35 L742.00 406.35 L744.00 406.35 L746.00 406.35 L748.00 406.36 L750.00 406.36 L752.00 406.36 L754.00 406.36 L756.00 406.36 L758.00 406.37 L760.00 406.37 L762.00 406.37 L764.00 406.37 L766.00 406.37 L768.00 406.38 L770.00 406.38 L772.00 406.38 L774.00 406.38 L776.00 406.39 L778.00 406.39 L780.00 406.39 L782.00 406.39 L784.00 406.39 L786.00 406.40 L788.00 406.40 L790.00 406.40 L792.00 406.40 L794.00 406.41 L796.00 406.41 L798.00 406.41 L800.00 406.41 L802.00 406.42 L802.50 406.42" stroke="#0000FF" stroke-width="3.9" fill="none"/>
<path d="M72.50 431.40 L73.00 431.81 L73.50 432.39 L74.00 433.12 L74.50 433.98 L75.00 434.94 L75.50 435.99 L76.00 437.09 L76.50 438.25 L77.00 439.43 L77.50 440.63 L78.00 441.82 L78.50 443.00 L79.00 444.16 L79.50 445.28 L80.00 446.35 L80.50 447.37 L81.00 448.32 L81.50 449.20 L82.00 450.01 L82.50 450.75 L83.00 451.43 L83.50 452.04 L84.00 452.60 L84.50 453.09 L85.00 453.53 L85.50 453.92 L86.00 454.25 L86.50 454.53 L87.00 454.77 L87.50 454.95 L88.00 455.10 L88.50 455.19 L89.00 455.25 L89.50 455.26 L90.00 455.24 L90.50 455.18 L91.00 455.08 L91.50 454.94 L92.00 454.77 L92.50 454.57 L93.00 454.33 L93.50 454.07 L94.00 453.78 L94.50 453.45 L95.00 453.11 L95.50 452.74 L96.00 452.34 L96.50 451.92 L97.00 451.49 L97.50 451.03 L98.00 450.55 L98.50 450.05 L99.00 449.54 L99.50 449.01 L100.00 448.47 L100.50 447.91 L101.00 447.34 L101.50 446.76 L102.00 446.16 L102.50 445.56 L103.00 444.94 L103.50 444.31 L104.00 443.68 L104.50 443.03 L105.00 442.38 L105.50 441.72 L106.00 441.05 L106.50 440.38 L107.00 439.70 L107.50 439.01 L108.00 438.32 L108.50 437.63 L109.00 436.93 L109.50 436.23 L110.00 435.53 L110.50 434.82 L111.00 434.11 L111.50 433.39 L112.00 432.68 L112.50 431.96 L113.00 431.25 L113.50 430.53 L114.00 429.81 L114.50 429.08 L115.00 428.35 L115.50 427.61 L116.00 426.87 L116.50 426.11 L117.00 425.35 L117.50 424.58 L118.00 423.80 L118.50 423.00 L119.00 422.19 L119.50 421.37 L120.00 420.54 L120.50 419.70 L121.00 418.85 L121.50 417.99 L122.00 417.13 L122.50 416.27 L123.00 415.40 L123.50 414.53 L124.00 413.66 L124.50 412.80 L125.00 411.93 L125.50 411.07 L126.00 410.22 L126.50 409.36 L127.00 408.52 L127.50 407.68 L128.00 406.86 L128.50 406.03 L129.00 405.22 L129.50 404.41 L130.00 403.61 L130.50 402.82 L131.00 402.04 L131.50 401.26 L132.00 400.48 L132.50 399.72 L133.00 398.95 L133.50 398.20 L134.00 397.45 L134.50 396.70 L135.00 395.97 L135.50 395.23 L136.00 394.50 L136.50 393.78 L137.00 393.06 L137.50 392.35 L138.00 391.64 L138.50 390.94 L139.00 390.24 L139.50 389.54 L140.00 388.85 L142.00 386.13 L144.00 383.47 L146.00 380.86 L148.00 378.30 L150.00 375.79 L152.00 373.31 L154.00 370.87 L156.00 368.47 L158.00 366.11 L160.00 363.79 L162.00 361.51 L164.00 359.27 L166.00 357.07 L168.00 354.91 L170.00 352.80 L172.00 350.73 L174.00 348.70 L176.00 346.72 L178.00 344.78 L180.00 342.88 L182.00 341.02 L184.00 339.21 L186.00 337.43 L188.00 335.69 L190.00 333.98 L192.00 332.31 L194.00 330.67 L196.00 329.06 L198.00 327.49 L200.00 325.95 L202.00 324.43 L204.00 322.94 L206.00 321.49 L208.00 320.05 L210.00 318.65 L212.00 317.27 L214.00 315.91 L216.00 314.58 L218.00 313.27 L220.00 311.98 L222.00 310.72 L224.00 309.47 L226.00 308.25 L228.00 307.05 L230.00 305.87 L232.00 304.70 L234.00 303.56 L236.00 302.43 L238.00 301.32 L240.00 300.24 L242.00 299.16 L244.00 298.11 L246.00 297.07 L248.00 296.05 L250.00 295.04 L252.00 294.05 L254.00 293.08 L256.00 292.12 L258.00 291.17 L260.00 290.24 L262.00 289.33 L264.00 288.42 L266.00 287.54 L268.00 286.66 L270.00 285.81 L272.00 284.97 L274.00 284.15 L276.00 283.35 L278.00 282.58 L280.00 281.83 L282.00 281.10 L284.00 280.40 L286.00 279.73 L288.00 279.08 L290.00 278.47 L292.00 277.89 L294.00 277.33 L296.00 276.81 L298.00 276.31 L300.00 275.85 L302.00 275.40 L304.00 274.98 L306.00 274.57 L308.00 274.18 L310.00 273.81 L312.00 273.44 L314.00 273.08 L316.00 272.73 L318.00 272.39 L320.00 272.05 L322.00 271.71 L324.00 271.37 L326.00 271.03 L328.00 270.69 L330.00 270.34 L332.00 269.98 L334.00 269.61 L336.00 269.24 L338.00 268.86 L340.00 268.46 L342.00 268.06 L344.00 267.65 L346.00 267.24 L348.00 266.82 L350.00 266.39 L352.00 265.96 L354.00 265.53 L356.00 265.10 L358.00 264.66 L360.00 264.22 L362.00 263.78 L364.00 263.34 L366.00 262.91 L368.00 262.47 L370.00 262.04 L372.00 261.60 L374.00 261.17 L376.00 260.75 L378.00 260.32 L380.00 259.90 L382.00 259.49 L384.00 259.07 L386.00 258.67 L388.00 258.26 L390.00 257.87 L392.00 257.47 L394.00 257.09 L396.00 256.70 L398.00 256.33 L400.00 255.95 L402.00 255.59 L404.00 255.23 L406.00 254.87 L408.00 254.53 L410.00 254.19 L412.00 253.85 L414.00 253.52 L416.00 253.20 L418.00 252.89 L420.00 252.58 L422.00 252.28 L424.00 251.98 L426.00 251.69 L428.00 251.41 L430.00 251.13 L432.00 250.86 L434.00 250.59 L436.00 250.33 L438.00 250.07 L440.00 249.81 L442.00 249.56 L444.00 249.32 L446.00 249.07 L448.00 248.83 L450.00 248.59 L452.00 248.35 L454.00 248.12 L456.00 247.88 L458.00 247.66 L460.00 247.43 L462.00 247.20 L464.00 246.98 L466.00 246.76 L468.00 246.54 L470.00 246.33 L472.00 246.12 L474.00 245.91 L476.00 245.70 L478.00 245.49 L480.00 245.29 L482.00 245.09 L484.00 244.89 L486.00 244.70 L488.00 244.51 L490.00 244.32 L492.00 244.13 L494.00 243.94 L496.00 243.76 L498.00 243.58 L500.00 243.40 L502.00 243.23 L504.00 243.06 L506.00 242.89 L508.00 242.72 L510.00 242.56 L512.00 242.39 L514.00 242.23 L516.00 242.08 L518.00 241.92 L520.00 241.77 L522.00 241.62 L524.00 241.47 L526.00 241.33 L528.00 241.18 L530.00 241.04 L532.00 240.91 L534.00 240.77 L536.00 240.64 L538.00 240.51 L540.00 240.38 L542.00 240.26 L544.00 240.13 L546.00 240.01 L548.00 239.89 L550.00 239.78 L552.00 239.67 L554.00 239.55 L556.00 239.45 L558.00 239.34 L560.00 239.24 L562.00 239.14 L564.00 239.04 L566.00 238.94 L568.00 238.85 L570.00 238.75 L572.00 238.67 L574.00 238.58 L576.00 238.49 L578.00 238.41 L580.00 238.33 L582.00 238.25 L584.00 238.18 L586.00 238.10 L588.00 238.03 L590.00 237.96 L592.00 237.89 L594.00 237.83 L596.00 237.76 L598.00 237.70 L600.00 237.64 L602.00 237.58 L604.00 237.52 L606.00 237.46 L608.00 237.41 L610.00 237.36 L612.00 237.31 L614.00 237.26 L616.00 237.21 L618.00 237.16 L620.00 237.12 L622.00 237.08 L624.00 237.03 L626.00 236.99 L628.00 236.95 L630.00 236.91 L632.00 236.88 L634.00 236.84 L636.00 236.81 L638.00 236.77 L640.00 236.74 L642.00 236.71 L644.00 236.68 L646.00 236.65 L648.00 236.63 L650.00 236.60 L652.00 236.57 L654.00 236.55 L656.00 236.53 L658.00 236.50 L660.00 236.48 L662.00 236.46 L664.00 236.44 L666.00 236.42 L668.00 236.40 L670.00 236.39 L672.00 236.37 L674.00 236.36 L676.00 236.34 L678.00 236.33 L680.00 236.31 L682.00 236.30 L684.00 236.29 L686.00 236.28 L688.00 236.27 L690.00 236.26 L692.00 236.25 L694.00 236.24 L696.00 236.23 L698.00 236.22 L700.00 236.22 L702.00 236.21 L704.00 236.20 L706.00 236.20 L708.00 236.19 L710.00 236.19 L712.00 236.18 L714.00 236.18 L716.00 236.18 L718.00 236.17 L720.00 236.17 L722.00 236.17 L724.00 236.17 L726.00 236.17 L728.00 236.17 L730.00 236.17 L732.00 236.17 L734.00 236.17 L736.00 236.17 L738.00 236.17 L740.00 236.17 L742.00 236.17 L744.00 236.17 L746.00 236.18 L748.00 236.18 L750.00 236.18 L752.00 236.18 L754.00 236.19 L756.00 236.19 L758.00 236.19 L760.00 236.20 L762.00 236.20 L764.00 236.20 L766.00 236.21 L768.00 236.21 L770.00 236.22 L772.00 236.22 L774.00 236.22 L776.00 236.23 L778.00 236.23 L780.00 236.24 L782.00 236.24 L784.00 236.25 L786.00 236.25 L788.00 236.26 L790.00 236.26 L792.00 236.27 L794.00 236.28 L796.00 236.28 L798.00 236.29 L800.00 236.29 L802.00 236.30 L802.50 236.30" stroke="#3A1A43" stroke-width="3.9" fill="none" stroke-linejoin="round"/>
<path d="M72.50 441.79 L73.00 442.60 L73.50 443.39 L74.00 444.15 L74.50 444.89 L75.00 445.59 L75.50 446.27 L76.00 446.92 L76.50 447.54 L77.00 448.14 L77.50 448.71 L78.00 449.25 L78.50 449.77 L79.00 450.26 L79.50 450.73 L80.00 451.17 L80.50 451.59 L81.00 451.98 L81.50 452.35 L82.00 452.70 L82.50 453.03 L83.00 453.33 L83.50 453.61 L84.00 453.87 L84.50 454.11 L85.00 454.33 L85.50 454.52 L86.00 454.70 L86.50 454.86 L87.00 455.00 L87.50 455.12 L88.00 455.23 L88.50 455.32 L89.00 455.40 L89.50 455.46 L90.00 455.51 L90.50 455.55 L91.00 455.57 L91.50 455.59 L92.00 455.59 L92.50 455.58 L93.00 455.57 L93.50 455.54 L94.00 455.50 L94.50 455.46 L95.00 455.41 L95.50 455.35 L96.00 455.28 L96.50 455.21 L97.00 455.13 L97.50 455.05 L98.00 454.96 L98.50 454.86 L99.00 454.76 L99.50 454.65 L100.00 454.54 L100.50 454.43 L101.00 454.31 L101.50 454.19 L102.00 454.06 L102.50 453.93 L103.00 453.80 L103.50 453.66 L104.00 453.53 L104.50 453.39 L105.00 453.24 L105.50 453.10 L106.00 452.95 L106.50 452.80 L107.00 452.65 L107.50 452.50 L108.00 452.35 L108.50 452.19 L109.00 452.04 L109.50 451.88 L110.00 451.72 L110.50 451.56 L111.00 451.40 L111.50 451.24 L112.00 451.07 L112.50 450.91 L113.00 450.74 L113.50 450.58 L114.00 450.41 L114.50 450.24 L115.00 450.07 L115.50 449.90 L116.00 449.73 L116.50 449.56 L117.00 449.39 L117.50 449.22 L118.00 449.05 L118.50 448.88 L119.00 448.71 L119.50 448.53 L120.00 448.36 L120.50 448.19 L121.00 448.01 L121.50 447.84 L122.00 447.67 L122.50 447.49 L123.00 447.32 L123.50 447.14 L124.00 446.97 L124.50 446.80 L125.00 446.62 L125.50 446.45 L126.00 446.28 L126.50 446.10 L127.00 445.93 L127.50 445.76 L128.00 445.58 L128.50 445.41 L129.00 445.24 L129.50 445.06 L130.00 444.89 L130.50 444.72 L131.00 444.55 L131.50 444.38 L132.00 444.21 L132.50 444.04 L133.00 443.87 L133.50 443.70 L134.00 443.53 L134.50 443.36 L135.00 443.19 L135.50 443.02 L136.00 442.85 L136.50 442.68 L137.00 442.52 L137.50 442.35 L138.00 442.19 L138.50 442.02 L139.00 441.86 L139.50 441.69 L140.00 441.53 L142.00 440.88 L144.00 440.23 L146.00 439.60 L148.00 438.98 L150.00 438.37 L152.00 437.76 L154.00 437.17 L156.00 436.59 L158.00 436.02 L160.00 435.46 L162.00 434.91 L164.00 434.37 L166.00 433.84 L168.00 433.33 L170.00 432.82 L172.00 432.33 L174.00 431.84 L176.00 431.37 L178.00 430.91 L180.00 430.46 L182.00 430.02 L184.00 429.59 L186.00 429.17 L188.00 428.76 L190.00 428.36 L192.00 427.97 L194.00 427.59 L196.00 427.22 L198.00 426.86 L200.00 426.51 L202.00 426.17 L204.00 425.84 L206.00 425.52 L208.00 425.21 L210.00 424.91 L212.00 424.61 L214.00 424.33 L216.00 424.05 L218.00 423.78 L220.00 423.52 L222.00 423.27 L224.00 423.03 L226.00 422.80 L228.00 422.57 L230.00 422.35 L232.00 422.14 L234.00 421.93 L236.00 421.73 L238.00 421.53 L240.00 421.34 L242.00 421.16 L244.00 420.98 L246.00 420.80 L248.00 420.63 L250.00 420.46 L252.00 420.30 L254.00 420.14 L256.00 419.98 L258.00 419.82 L260.00 419.67 L262.00 419.52 L264.00 419.37 L266.00 419.23 L268.00 419.09 L270.00 418.94 L272.00 418.81 L274.00 418.67 L276.00 418.53 L278.00 418.40 L280.00 418.26 L282.00 418.13 L284.00 418.00 L286.00 417.87 L288.00 417.74 L290.00 417.61 L292.00 417.48 L294.00 417.36 L296.00 417.23 L298.00 417.10 L300.00 416.98 L302.00 416.85 L304.00 416.72 L306.00 416.60 L308.00 416.47 L310.00 416.35 L312.00 416.22 L314.00 416.09 L316.00 415.97 L318.00 415.84 L320.00 415.71 L322.00 415.59 L324.00 415.46 L326.00 415.33 L328.00 415.21 L330.00 415.08 L332.00 414.95 L334.00 414.82 L336.00 414.70 L338.00 414.57 L340.00 414.45 L342.00 414.32 L344.00 414.20 L346.00 414.07 L348.00 413.95 L350.00 413.83 L352.00 413.70 L354.00 413.58 L356.00 413.46 L358.00 413.34 L360.00 413.23 L362.00 413.11 L364.00 412.99 L366.00 412.88 L368.00 412.77 L370.00 412.65 L372.00 412.54 L374.00 412.43 L376.00 412.32 L378.00 412.22 L380.00 412.11 L382.00 412.01 L384.00 411.91 L386.00 411.80 L388.00 411.70 L390.00 411.61 L392.00 411.51 L394.00 411.41 L396.00 411.32 L398.00 411.23 L400.00 411.14 L402.00 411.05 L404.00 410.96 L406.00 410.87 L408.00 410.79 L410.00 410.71 L412.00 410.63 L414.00 410.55 L416.00 410.47 L418.00 410.39 L420.00 410.32 L422.00 410.25 L424.00 410.17 L426.00 410.10 L428.00 410.03 L430.00 409.97 L432.00 409.90 L434.00 409.83 L436.00 409.77 L438.00 409.71 L440.00 409.65 L442.00 409.59 L444.00 409.53 L446.00 409.47 L448.00 409.41 L450.00 409.36 L452.00 409.30 L454.00 409.25 L456.00 409.20 L458.00 409.15 L460.00 409.10 L462.00 409.05 L464.00 409.00 L466.00 408.95 L468.00 408.91 L470.00 408.86 L472.00 408.82 L474.00 408.78 L476.00 408.73 L478.00 408.69 L480.00 408.65 L482.00 408.61 L484.00 408.57 L486.00 408.54 L488.00 408.50 L490.00 408.46 L492.00 408.43 L494.00 408.39 L496.00 408.36 L498.00 408.33 L500.00 408.29 L502.00 408.26 L504.00 408.23 L506.00 408.20 L508.00 408.17 L510.00 408.15 L512.00 408.12 L514.00 408.09 L516.00 408.06 L518.00 408.04 L520.00 408.01 L522.00 407.99 L524.00 407.96 L526.00 407.94 L528.00 407.92 L530.00 407.90 L532.00 407.88 L534.00 407.85 L536.00 407.83 L538.00 407.81 L540.00 407.79 L542.00 407.78 L544.00 407.76 L546.00 407.74 L548.00 407.72 L550.00 407.70 L552.00 407.69 L554.00 407.67 L556.00 407.65 L558.00 407.64 L560.00 407.62 L562.00 407.61 L564.00 407.59 L566.00 407.58 L568.00 407.56 L570.00 407.55 L572.00 407.54 L574.00 407.52 L576.00 407.51 L578.00 407.50 L580.00 407.48 L582.00 407.47 L584.00 407.46 L586.00 407.45 L588.00 407.43 L590.00 407.42 L592.00 407.41 L594.00 407.40 L596.00 407.39 L598.00 407.37 L600.00 407.36 L602.00 407.35 L604.00 407.34 L606.00 407.33 L608.00 407.32 L610.00 407.31 L612.00 407.30 L614.00 407.29 L616.00 407.28 L618.00 407.26 L620.00 407.25 L622.00 407.24 L624.00 407.23 L626.00 407.22 L628.00 407.21 L630.00 407.20 L632.00 407.19 L634.00 407.18 L636.00 407.17 L638.00 407.16 L640.00 407.15 L642.00 407.14 L644.00 407.12 L646.00 407.11 L648.00 407.10 L650.00 407.09 L652.00 407.08 L654.00 407.07 L656.00 407.06 L658.00 407.05 L660.00 407.04 L662.00 407.02 L664.00 407.01 L666.00 407.00 L668.00 406.99 L670.00 406.98 L672.00 406.96 L674.00 406.95 L676.00 406.94 L678.00 406.93 L680.00 406.91 L682.00 406.90 L684.00 406.89 L686.00 406.88 L688.00 406.86 L690.00 406.85 L692.00 406.84 L694.00 406.82 L696.00 406.81 L698.00 406.79 L700.00 406.78 L702.00 406.76 L704.00 406.75 L706.00 406.74 L708.00 406.72 L710.00 406.71 L712.00 406.69 L714.00 406.67 L716.00 406.66 L718.00 406.64 L720.00 406.63 L722.00 406.61 L724.00 406.59 L726.00 406.58 L728.00 406.56 L730.00 406.54 L732.00 406.53 L734.00 406.51 L736.00 406.49 L738.00 406.47 L740.00 406.46 L742.00 406.44 L744.00 406.42 L746.00 406.40 L748.00 406.38 L750.00 406.36 L752.00 406.34 L754.00 406.32 L756.00 406.30 L758.00 406.28 L760.00 406.26 L762.00 406.24 L764.00 406.22 L766.00 406.20 L768.00 406.18 L770.00 406.15 L772.00 406.13 L774.00 406.11 L776.00 406.09 L778.00 406.07 L780.00 406.04 L782.00 406.02 L784.00 406.00 L786.00 405.97 L788.00 405.95 L790.00 405.92 L792.00 405.90 L794.00 405.87 L796.00 405.85 L798.00 405.82 L800.00 405.80 L802.00 405.77 L802.50 405.77" stroke="#3A1A43" stroke-width="3.9" fill="none" stroke-linejoin="round"/>
</g>
<path d="M72.50 455.80 v-5.30 M72.50 4.50 v5.30 M113.06 455.80 v-5.30 M113.06 4.50 v5.30 M153.61 455.80 v-5.30 M153.61 4.50 v5.30 M194.17 455.80 v-8.40 M194.17 4.50 v8.40 M234.72 455.80 v-5.30 M234.72 4.50 v5.30 M275.28 455.80 v-5.30 M275.28 4.50 v5.30 M315.83 455.80 v-5.30 M315.83 4.50 v5.30 M356.39 455.80 v-5.30 M356.39 4.50 v5.30 M396.94 455.80 v-8.40 M396.94 4.50 v8.40 M437.50 455.80 v-5.30 M437.50 4.50 v5.30 M478.06 455.80 v-5.30 M478.06 4.50 v5.30 M518.61 455.80 v-5.30 M518.61 4.50 v5.30 M559.17 455.80 v-5.30 M559.17 4.50 v5.30 M599.72 455.80 v-8.40 M599.72 4.50 v8.40 M640.28 455.80 v-5.30 M640.28 4.50 v5.30 M680.83 455.80 v-5.30 M680.83 4.50 v5.30 M721.39 455.80 v-5.30 M721.39 4.50 v5.30 M761.94 455.80 v-5.30 M761.94 4.50 v5.30 M802.50 455.80 v-8.40 M802.50 4.50 v8.40 M72.50 455.80 h8.40 M802.50 455.80 h-8.40 M72.50 430.73 h5.30 M802.50 430.73 h-5.30 M72.50 405.66 h5.30 M802.50 405.66 h-5.30 M72.50 380.58 h5.30 M802.50 380.58 h-5.30 M72.50 355.51 h8.40 M802.50 355.51 h-8.40 M72.50 330.44 h5.30 M802.50 330.44 h-5.30 M72.50 305.37 h5.30 M802.50 305.37 h-5.30 M72.50 280.29 h5.30 M802.50 280.29 h-5.30 M72.50 255.22 h8.40 M802.50 255.22 h-8.40 M72.50 230.15 h5.30 M802.50 230.15 h-5.30 M72.50 205.08 h5.30 M802.50 205.08 h-5.30 M72.50 180.01 h5.30 M802.50 180.01 h-5.30 M72.50 154.93 h8.40 M802.50 154.93 h-8.40 M72.50 129.86 h5.30 M802.50 129.86 h-5.30 M72.50 104.79 h5.30 M802.50 104.79 h-5.30 M72.50 79.72 h5.30 M802.50 79.72 h-5.30 M72.50 54.64 h8.40 M802.50 54.64 h-8.40 M72.50 29.57 h5.30 M802.50 29.57 h-5.30 M72.50 4.50 h5.30 M802.50 4.50 h-5.30" stroke="#000" stroke-width="4.50" fill="none"/>
<rect x="72.50" y="4.50" width="730.00" height="451.30" fill="none" stroke="#000" stroke-width="4.60"/>
<rect x="657.5" y="43.4" width="95.4" height="22.2" fill="#CDB01F"/>
<rect x="657.5" y="88.6" width="95.4" height="22.3" fill="#089B7B"/>
<rect x="657.5" y="133.5" width="95.4" height="22.4" fill="#532B56"/>
<g font-family="'Liberation Serif', serif" font-weight="bold" font-size="28px">
<g transform="translate(464.7 64.7) scale(0.956 1)"><text x="0" y="0" fill="#CDB01F" font-size="29.3px">SM</text></g>
<g transform="translate(449.8 109.8) scale(0.956 1)"><text x="0" y="0" fill="#089B7B" font-size="29.3px">UED5</text></g>
<g transform="translate(449.9 154.8) scale(0.956 1)"><text x="0" y="0" fill="#532B56" font-size="29.3px">UED6</text></g>
<text y="152.8" fill="#532B56" font-weight="normal" font-size="25.5px"><tspan x="537.8">(</tspan><tspan x="546.6" font-style="italic">N</tspan><tspan x="565.2" font-size="17.5px" dy="4.6">KK</tspan><tspan x="591.6" dy="-4.6">=</tspan><tspan x="609.6" font-size="24.2px">15</tspan><tspan x="633.2" font-size="25.5px">)</tspan></text>
<text x="194.37" y="488.8" text-anchor="middle" font-size="29px">500</text>
<text x="397.14" y="488.8" text-anchor="middle" font-size="29px">1000</text>
<text x="599.92" y="488.8" text-anchor="middle" font-size="29px">1500</text>
<text x="802.70" y="488.8" text-anchor="middle" font-size="29px">2000</text>
<text x="65.6" y="465.20" text-anchor="end" font-size="29px">0</text>
<text x="65.6" y="364.91" text-anchor="end" font-size="29px">2</text>
<text x="65.6" y="264.62" text-anchor="end" font-size="29px">4</text>
<text x="65.6" y="164.33" text-anchor="end" font-size="29px">6</text>
<text x="65.6" y="64.04" text-anchor="end" font-size="29px">8</text>
<text x="437.0" y="533.9" text-anchor="middle" font-size="28.7px">1/R [GeV]</text>
<g transform="rotate(-90)" font-size="28.4px">
<text x="-347.5" y="28.6">B</text>
<text x="-329.1" y="28.6">R</text>
<text x="-309.3" y="28.6">(</text>
<g transform="translate(-299.4 28.6) scale(0.93 1)"><text x="0" y="0">&#923;</text></g>
<text x="-280.0" y="33.2" font-style="italic" font-size="20.5px">b</text>
<path d="M-262 21.4 H-243" stroke="#000" stroke-width="2.4" fill="none"/>
<path d="M-248.8 15.2 Q-245.6 19.4 -241.9 21.4 Q-245.6 23.4 -248.8 27.6" stroke="#000" stroke-width="2.4" fill="none" stroke-linejoin="round"/>
<g transform="translate(-232.1 28.6) scale(0.96 1)"><text x="0" y="0">&#923;</text></g>
<g transform="translate(-205.3 28.6) scale(1.2 1)"><text x="0" y="0" font-style="italic">&#947;</text></g>
<text x="-188.0" y="28.6" font-style="italic">)</text>
<text x="-172.1" y="28.6">x</text>
<text x="-152.2" y="28.6">10</text>
<text x="-123.5" y="16.0" font-size="20.9px">5</text>
</g>
</g>
</svg>
</body>
</html>
